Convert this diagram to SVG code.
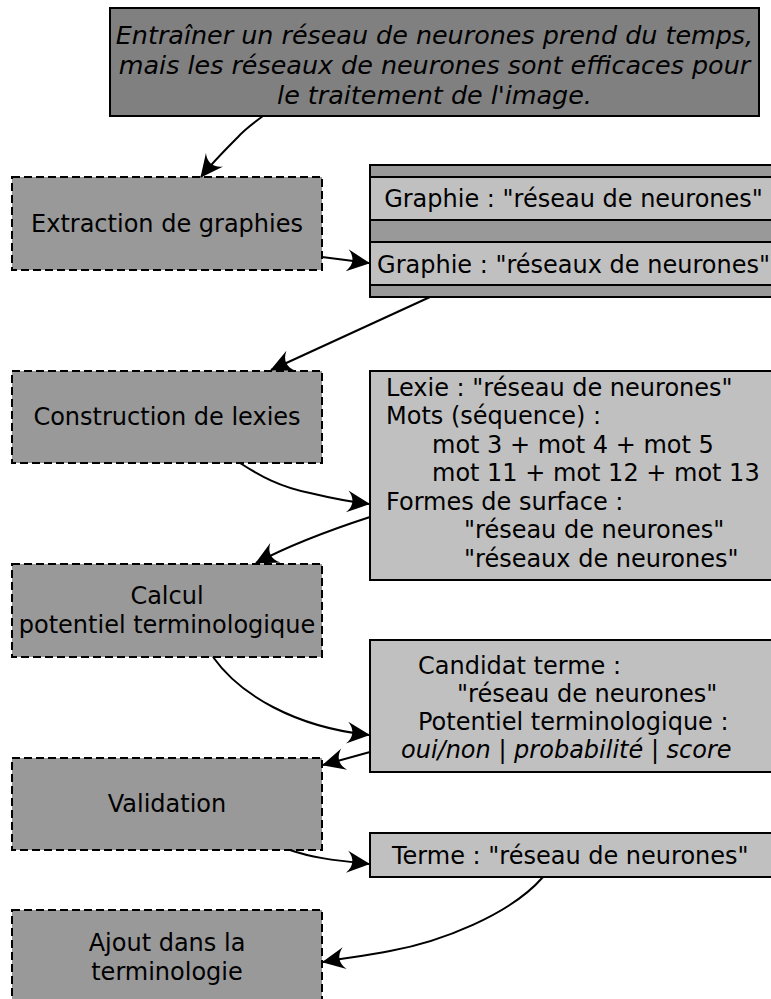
<svg xmlns="http://www.w3.org/2000/svg" width="771" height="999" viewBox="0 0 771 999">
<style>
text{font-family:"DejaVu Sans","Liberation Sans",sans-serif;font-size:24px;fill:#000}
.mid{text-anchor:middle}
.it{font-style:italic}
.big{font-size:25.4px}
.step{fill:#999999;stroke:#000;stroke-width:2;stroke-dasharray:8,4}
.data{fill:#c0c0c0;stroke:#000;stroke-width:2}
.band{fill:#999999;stroke:#000;stroke-width:2}
.src{fill:#808080;stroke:#000;stroke-width:2}
.conn path{fill:none;stroke:#000;stroke-width:2;marker-end:url(#ah)}
</style>
<defs>
<marker id="ah" markerUnits="userSpaceOnUse" markerWidth="28" markerHeight="26" viewBox="-26 -13 28 26" refX="0" refY="0" orient="auto">
<path d="M1,0 L-22,-11 C-15,-4 -15,4 -22,11 Z" fill="#000"/>
</marker>
</defs>
<rect width="771" height="999" fill="#fff"/>
<g id="source">
<rect class="src" x="110" y="8" width="649" height="108"/>
<text class="mid it big" x="434.5" y="44">Entraîner un réseau de neurones prend du temps,</text>
<text class="mid it big" x="434.5" y="74">mais les réseaux de neurones sont efficaces pour</text>
<text class="mid it big" x="434.5" y="103.5">le traitement de l'image.</text>
</g>
<g id="extraction">
<rect class="step" x="12" y="177" width="310" height="93"/>
<text class="mid" x="167" y="232">Extraction de graphies</text>
</g>
<g id="graphies">
<rect class="band" x="370" y="165" width="420" height="132"/>
<rect class="data" x="370" y="177" width="420" height="43"/>
<rect class="data" x="370" y="242" width="420" height="43"/>
<text class="mid" x="573.5" y="207">Graphie : "réseau de neurones"</text>
<text class="mid" x="573.5" y="273">Graphie : "réseaux de neurones"</text>
</g>
<g id="construction">
<rect class="step" x="12" y="371" width="310" height="92"/>
<text class="mid" x="167" y="425">Construction de lexies</text>
</g>
<g id="lexie">
<rect class="data" x="370" y="371" width="420" height="209"/>
<text x="386" y="395.5">Lexie : "réseau de neurones"</text>
<text x="386" y="424">Mots (séquence) :</text>
<text x="432" y="452.5">mot 3 + mot 4 + mot 5</text>
<text x="432" y="481">mot 11 + mot 12 + mot 13</text>
<text x="386" y="509.5">Formes de surface :</text>
<text x="464" y="538">"réseau de neurones"</text>
<text x="464" y="566.5">"réseaux de neurones"</text>
</g>
<g id="calcul">
<rect class="step" x="12" y="564" width="310" height="93"/>
<text class="mid" x="167" y="604">Calcul</text>
<text class="mid" x="167" y="633">potentiel terminologique</text>
</g>
<g id="candidat">
<rect class="data" x="370" y="640" width="420" height="132"/>
<text x="418" y="674">Candidat terme :</text>
<text x="457" y="701.5">"réseau de neurones"</text>
<text x="418" y="730">Potentiel terminologique :</text>
<text x="401" y="758">
<tspan class="it">oui/non</tspan> | <tspan class="it">probabilité</tspan> | <tspan class="it">score</tspan></text>
</g>
<g id="validation">
<rect class="step" x="12" y="758" width="310" height="92"/>
<text class="mid" x="167" y="812">Validation</text>
</g>
<g id="terme">
<rect class="data" x="370" y="833" width="420" height="44"/>
<text x="392" y="864">Terme : "réseau de neurones"</text>
</g>
<g id="ajout">
<rect class="step" x="12" y="910" width="310" height="93"/>
<text class="mid" x="167" y="951">Ajout dans la</text>
<text class="mid" x="167" y="980">terminologie</text>
</g>
<g id="connectors" class="conn">
<path d="M263,116 C252,124 244,130 238,137 C225,150 212,163 201,177"/>
<path d="M322,257 L369,263"/>
<path d="M430,297 L271,370"/>
<path d="M240,463 C260,476 280,487 310,493 C335,499 352,502 369,504"/>
<path d="M370,517 C330,530 290,545 256,563"/>
<path d="M213,657 C240,695 295,727 369,735"/>
<path d="M370,752 L323,765"/>
<path d="M290,850 C310,857 330,860 369,864"/>
<path d="M543,877 C510,915 440,942 390,951 C365,956 345,958 323,962"/>
</g>
</svg>
